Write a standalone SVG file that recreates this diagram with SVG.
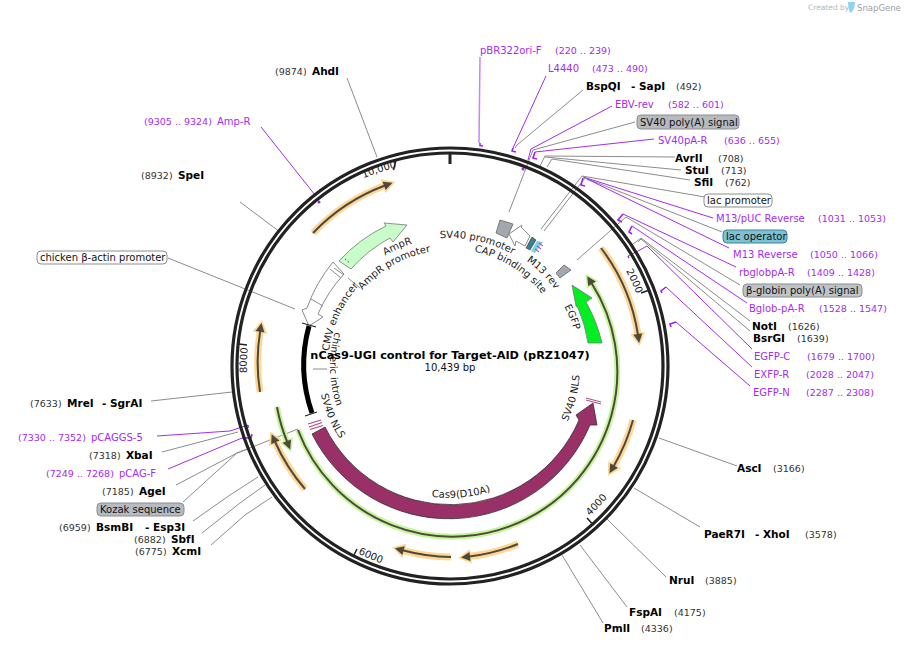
<svg xmlns="http://www.w3.org/2000/svg" width="905" height="645" viewBox="0 0 905 645">
<style>
text{font-family:"DejaVu Sans","Liberation Sans",sans-serif;font-size:10px;fill:#111}
.b{font-weight:bold;fill:#000;font-size:10.5px}
.n{font-size:9.5px;fill:#333}
.p{fill:#a32cf0}
.pn{font-size:9.5px;fill:#a32cf0}
.c{font-size:10px;fill:#222}
.g{fill:none;stroke:#8c8c8c;stroke-width:1}
.v{fill:none;stroke:#a32cf0;stroke-width:1}
.k{fill:none;stroke:#a020f0;stroke-width:1.6}
.t{fill:none;stroke:#222;stroke-width:1.6}
.badge{stroke:#8a8d90;stroke-width:1}
.oh{fill:none;stroke:#ffd695;stroke-width:7;marker-end:url(#mo)}
.gh{fill:none;stroke:#c6f59c;stroke-width:6;marker-end:url(#mg)}
.core{fill:none;stroke:#4d4a3c;stroke-width:2;marker-end:url(#md)}
.prom{fill:#fff;stroke:#8a8a8a;stroke-width:1}
</style>
<defs>
<marker id="mo" markerUnits="userSpaceOnUse" markerWidth="30" markerHeight="30" viewBox="-10 -15 30 30" refX="0" refY="0" orient="auto"><path d="M-2 -7.5L11 0L-2 7.5Z" fill="#ffd695"/></marker>
<marker id="mg" markerUnits="userSpaceOnUse" markerWidth="30" markerHeight="30" viewBox="-10 -15 30 30" refX="0" refY="0" orient="auto"><path d="M-2 -7L11 0L-2 7Z" fill="#c6f59c"/></marker>
<marker id="md" markerUnits="userSpaceOnUse" markerWidth="30" markerHeight="30" viewBox="-10 -15 30 30" refX="0" refY="0" orient="auto"><path d="M-1 -4.5L8 0L-1 4.5Z" fill="#4d4a3c"/></marker>
<path id="pAmpR" d="M385 255.500A128 128 0 0 1 494 246"/>
<path id="pAmpRp" d="M362.400 290A116 116 0 0 1 470 252"/>
<path id="pSV40p" d="M440 238.400A128 128 0 0 1 540.500 275.500"/>
<path id="pCAP" d="M474.300 251.600A117 117 0 0 1 551.300 307.500"/>
<path id="pM13" d="M526.400 260.800A130 130 0 0 1 572 321.500"/>
<path id="pEGFP" d="M564.300 306.300A129 129 0 0 1 577 388.400"/>
<path id="pCMV" d="M329 351.200A121 121 0 0 1 408.600 252.300"/>
<path id="pChim" d="M334.900 331.900A120 120 0 0 0 365 451"/>
<path id="pNLS1" d="M321 394.400A132 132 0 0 0 427 496"/>
<path id="pNLS2" d="M567.400 421.800A130 130 0 0 0 562.600 301"/>
<path id="pCas9" d="M431.600 496.700A132 132 0 0 0 564 432"/>
<path id="pT10" d="M363.400 178.200A203 203 0 0 1 450 163"/>
<path id="pT2" d="M626 270.800A200 200 0 0 1 649 348.600"/>
<path id="pT4" d="M589.800 515.900A205 205 0 0 0 651.900 401.600"/>
<path id="pT6" d="M358 553.500A209 209 0 0 0 486.300 571.800"/>
<path id="pT8" d="M247 373A203 203 0 0 1 274 264"/>
</defs>
<rect width="905" height="645" fill="#fff"/>

<g id="connectors">
<path class="g" d="M347 78L377 157"/>
<path class="g" d="M240 202L280 232"/>
<path class="g" d="M168 258L295 309"/>
<path class="g" d="M583 90L517 145L515 148"/>
<path class="g" d="M635 122L533 150L509 212"/>
<path class="g" d="M675 157L545 156L540 166"/>
<path class="g" d="M681 170L545 157"/>
<path class="g" d="M690 180L552 159L547 167"/>
<path class="g" d="M705 197L582 176L541 229"/>
<path class="g" d="M722 232L585 178L544 231"/>
<path class="g" d="M740 285L626 217L577 260"/>
<path class="g" d="M750 321L641 238L633 244"/>
<path class="g" d="M750 331L641 239L638 242"/>
<path class="g" d="M737 466L659 438"/>
<path class="g" d="M700 527L634 488"/>
<path class="g" d="M666 577L607 519"/>
<path class="g" d="M627 607L580 545"/>
<path class="g" d="M603 623L562 555"/>
<path class="g" d="M151 401L232 392"/>
<path class="g" d="M162 452L238 432"/>
<path class="g" d="M176 485L237 453L248 449"/>
<path class="g" d="M183 502L237 453L298 429"/>
<path class="g" d="M193 521L230 495L258 477"/>
<path class="g" d="M202 533L240 503L265 485"/>
<path class="g" d="M211 545L245 515L272 497"/>
<path class="g" d="M348 278L360 288"/>
<path class="g" d="M313 369L327 369"/>
<path d="M480 57L479 143" fill="none" stroke="#c884ff" stroke-width="1.500"/>
<path class="v" d="M546 76L513 148"/>
<path class="v" d="M612 106L531 149L528 160"/>
<path class="v" d="M654 139L535 152"/>
<path class="v" d="M713 218L583 177"/>
<path class="v" d="M729 248L587 179"/>
<path class="v" d="M736 267L623 214"/>
<path class="v" d="M747 303L632 226"/>
<path class="v" d="M752 349L647 246L638 251L628 256"/>
<path class="v" d="M752 367L666 287"/>
<path class="v" d="M750 386L676 322"/>
<path class="v" d="M157 436L230 431L248 425"/>
<path class="v" d="M168 469L242 438"/>
<path class="v" d="M261 127L315 195"/>
<g>
<path class="k" d="M480 143L480 145.500L483 146"/>
<path class="k" d="M513 148L512 151L516 152"/>
<path class="k" d="M535 152L533 158L537 159"/>
<path class="k" d="M583 178L581 185L585 186"/>
<path class="k" d="M623 214L618 220L622 222"/>
<path class="k" d="M632 226L629 232L632 234"/>
<path class="k" d="M628 256L629 258"/>
<path class="k" d="M666 287L661 291L662 293"/>
<path class="k" d="M676 322L670 324L671 327"/>
<path class="k" d="M248 425L248 428"/>
<path class="k" d="M242 438L251 438L252 434"/>
<circle cx="523" cy="169" r="1.500" fill="#a020f0"/>
<circle cx="319" cy="202" r="1.500" fill="#a020f0"/>
</g>
</g>

<g id="backbone">
<circle cx="450" cy="366" r="218" fill="none" stroke="#222" stroke-width="3.200"/>
<circle cx="450" cy="366" r="213" fill="none" stroke="#222" stroke-width="3.200"/>
<path d="M450 153V164" stroke="#222" stroke-width="3"/>
<path class="t" d="M396 160L393.500 170"/>
<path class="t" d="M641 293L648 290.500"/>
<path class="t" d="M587 518L592 523.500"/>
<path class="t" d="M357 549L354 555"/>
<path class="t" d="M247 345L239 344"/>
<text class="c"><textPath href="#pT10">10,000</textPath></text>
<text class="c"><textPath href="#pT2">2000</textPath></text>
<text class="c"><textPath href="#pT4">4000</textPath></text>
<text class="c"><textPath href="#pT6">6000</textPath></text>
<text class="c"><textPath href="#pT8">8000</textPath></text>
</g>

<g id="orange-features">
<path class="oh" d="M313 233A192 192 0 0 1 385 185.500"/><path class="core" d="M313 233A192 192 0 0 1 385 185.500"/>
<path class="oh" d="M601 248A191 191 0 0 1 638 335"/><path class="core" d="M601 248A191 191 0 0 1 638 335"/>
<path class="oh" d="M633 420A191 191 0 0 1 613.500 466.400"/><path class="core" d="M633 420A191 191 0 0 1 613.500 466.400"/>
<path class="oh" d="M518 544A191 191 0 0 1 469 556.600"/><path class="core" d="M518 544A191 191 0 0 1 469 556.600"/>
<path class="oh" d="M451 557A191 191 0 0 1 402.600 550.300"/><path class="core" d="M451 557A191 191 0 0 1 402.600 550.300"/>
<path class="oh" d="M305 489A191 191 0 0 1 274.900 441.500"/><path class="core" d="M305 489A191 191 0 0 1 274.900 441.500"/>
<path class="oh" d="M260 392A191 191 0 0 1 260.200 330.800"/><path class="core" d="M260 392A191 191 0 0 1 260.200 330.800"/>
</g>

<g id="green-features">
<path class="gh" d="M298 430A165 165 0 1 0 591.500 283"/><path class="core" d="M298 430A165 165 0 1 0 591.500 283"/>
<path class="gh" d="M277 407A178 178 0 0 0 287.200 442"/><path class="core" d="M277 407A178 178 0 0 0 287.200 442"/>
</g>

<g id="Cas9">
<path d="M312 434A153 153 0 0 0 590 425L597 425L593 403L576 415L579 420A140 140 0 0 1 325 427Z" fill="#993067" stroke="#333" stroke-width="0.800"/>
<path d="M313 432L326 425" stroke="#fff" stroke-width="1.200" stroke-dasharray="2 1.500"/>
<path d="M308 424L321 420M309 427L322 422.500M310 429.500L323 425.500" stroke="#b04a80" stroke-width="1.200" fill="none"/>
<path d="M586 398L601 402M586 400L601 404" stroke="#b04a80" stroke-width="1" fill="none"/>
<text class="c"><textPath href="#pCas9">Cas9(D10A)</textPath></text>
<text class="c"><textPath href="#pNLS1">SV40 NLS</textPath></text>
<text class="c"><textPath href="#pNLS2">SV40 NLS</textPath></text>
</g>

<g id="EGFP">
<path d="M588 343A140 140 0 0 0 578 308L576 306L572 285L592 298L586 302A153 153 0 0 1 602 343Z" fill="#00ee22" stroke="#777" stroke-width="0.800"/>
<text class="c"><textPath href="#pEGFP">EGFP</textPath></text>
</g>

<g id="AmpR">
<path d="M339 261A153 153 0 0 1 386 226L384 223L407 225L393 242L390 238A140 140 0 0 0 351 269Z" fill="#c8fcc8" stroke="#777" stroke-width="0.800"/>
<path d="M345 259L350 263" stroke="#555" stroke-width="1" stroke-dasharray="1.500 2"/>
<text class="c"><textPath href="#pAmpR">AmpR</textPath></text>
</g>

<g id="AmpR-promoter">
<path class="prom" d="M333 262A153 153 0 0 0 307 308L302 310L309 326L323 317L318 314A140 140 0 0 1 344 274Z"/>
<path class="g" d="M311 299L323 306M330 269L341 278M334 268L344 275"/>
<text class="c"><textPath href="#pAmpRp">AmpR promoter</textPath></text>
</g>

<g id="CMV-enhancer"><text class="c"><textPath href="#pCMV">CMV enhancer</textPath></text></g>

<g id="chimeric-intron">
<path d="M309 326A146 146 0 0 0 312 413" fill="none" stroke="#000" stroke-width="5"/>
<path d="M302 323L316 327M305 416L317 412" stroke="#222" stroke-width="1.200"/>
<text class="c"><textPath href="#pChim">chimeric intron</textPath></text>
</g>

<g id="SV40-promoter">
<path d="M500 220L513 224L507 238L496 233Z" fill="#a3a8ae" stroke="#666" stroke-width="0.800"/>
<path class="prom" d="M509 234L522 225L521 227L530 236L525 246L516 241L515 246Z"/>
<text class="c"><textPath href="#pSV40p">SV40 promoter</textPath></text>
</g>

<g id="CAP-M13">
<path d="M532 237L536 240L530 250L526 248Z" fill="#3b7f8e" stroke="#333" stroke-width="0.600"/>
<path d="M537 241L543 242L535 253L531 251Z" fill="#7ed0dc"/>
<path d="M539 243L543 246M537 246L541 249M535 249L539 252" stroke="#a020f0" stroke-width="1"/>
<text class="c"><textPath href="#pCAP">CAP binding site</textPath></text>
<text class="c"><textPath href="#pM13">M13 rev</textPath></text>
</g>

<g id="lac-operator-site"><path d="M564 265L571 270L560 278L556 273Z" fill="#a3a8ae" stroke="#666" stroke-width="0.800"/></g>

<g id="title">
<text x="450" y="359" text-anchor="middle" style="font-weight:bold;font-size:11.300px;fill:#000">nCas9-UGI control for Target-AID (pRZ1047)</text>
<text x="450" y="371" text-anchor="middle" style="font-size:10px">10,439 bp</text>
</g>

<g id="labels-top-right">
<g id="pBR322ori-F"><text class="p" x="480" y="54">pBR322ori-F</text><text class="pn" x="555" y="54">(220 .. 239)</text></g>
<g id="L4440"><text class="p" x="548" y="72">L4440</text><text class="pn" x="592" y="72">(473 .. 490)</text></g>
<g id="BspQI"><text class="b" x="586" y="90">BspQI</text><text class="b" x="631" y="90">- SapI</text><text class="n" x="676" y="90">(492)</text></g>
<g id="EBV-rev"><text class="p" x="615" y="108">EBV-rev</text><text class="pn" x="668" y="108">(582 .. 601)</text></g>
<g id="SV40-polyA"><rect class="badge" x="637" y="115" width="102" height="14" rx="4" fill="#b7babf"/><text x="640" y="126">SV40 poly(A) signal</text></g>
<g id="SV40pA-R"><text class="p" x="658" y="144">SV40pA-R</text><text class="pn" x="724" y="144">(636 .. 655)</text></g>
<g id="AvrII"><text class="b" x="675" y="162">AvrII</text><text class="n" x="718" y="162">(708)</text></g>
<g id="StuI"><text class="b" x="685" y="174">StuI</text><text class="n" x="721" y="174">(713)</text></g>
<g id="SfiI"><text class="b" x="694" y="186">SfiI</text><text class="n" x="725" y="186">(762)</text></g>
<g id="lac-promoter"><rect class="badge" x="704" y="194" width="68" height="13" rx="4" fill="#fff"/><text x="707" y="204">lac promoter</text></g>
<g id="M13-pUC"><text class="p" x="716" y="222">M13/pUC Reverse</text><text class="pn" x="818" y="222">(1031 .. 1053)</text></g>
<g id="lac-operator"><rect class="badge" x="723" y="230" width="64" height="13" rx="4" fill="#7ec1d3" style="stroke:#3f8296"/><text x="726" y="240">lac operator</text></g>
<g id="M13-Reverse"><text class="p" x="733" y="258">M13 Reverse</text><text class="pn" x="810" y="258">(1050 .. 1066)</text></g>
<g id="rbglobpA-R"><text class="p" x="739" y="276">rbglobpA-R</text><text class="pn" x="807" y="276">(1409 .. 1428)</text></g>
<g id="beta-globin"><rect class="badge" x="743" y="284" width="119" height="13" rx="4" fill="#c0c3c6"/><text x="746" y="294">β-globin poly(A) signal</text></g>
<g id="Bglob-pA-R"><text class="p" x="749" y="312">Bglob-pA-R</text><text class="pn" x="819" y="312">(1528 .. 1547)</text></g>
<g id="NotI"><text class="b" x="752" y="330">NotI</text><text class="n" x="788" y="330">(1626)</text></g>
<g id="BsrGI"><text class="b" x="753" y="342">BsrGI</text><text class="n" x="797" y="342">(1639)</text></g>
<g id="EGFP-C"><text class="p" x="754" y="360">EGFP-C</text><text class="pn" x="807" y="360">(1679 .. 1700)</text></g>
<g id="EXFP-R"><text class="p" x="754" y="378">EXFP-R</text><text class="pn" x="806" y="378">(2028 .. 2047)</text></g>
<g id="EGFP-N"><text class="p" x="753" y="396">EGFP-N</text><text class="pn" x="806" y="396">(2287 .. 2308)</text></g>
</g>
<g id="labels-bottom">
<g id="AscI"><text class="b" x="737" y="472">AscI</text><text class="n" x="773" y="472">(3166)</text></g>
<g id="PaeR7I"><text class="b" x="704" y="538">PaeR7I</text><text class="b" x="755" y="538">- XhoI</text><text class="n" x="805" y="538">(3578)</text></g>
<g id="NruI"><text class="b" x="669" y="584">NruI</text><text class="n" x="705" y="584">(3885)</text></g>
<g id="FspAI"><text class="b" x="629" y="616">FspAI</text><text class="n" x="674" y="616">(4175)</text></g>
<g id="PmlI"><text class="b" x="604" y="632">PmlI</text><text class="n" x="641" y="632">(4336)</text></g>
</g>
<g id="labels-left">
<g id="AhdI"><text class="n" x="275" y="75">(9874)</text><text class="b" x="312" y="75">AhdI</text></g>
<g id="Amp-R"><text class="pn" x="144" y="125">(9305 .. 9324)</text><text class="p" x="217" y="125">Amp-R</text></g>
<g id="SpeI"><text class="n" x="141" y="179">(8932)</text><text class="b" x="178" y="179">SpeI</text></g>
<g id="chicken-actin"><rect class="badge" x="37" y="251" width="130" height="13" rx="4" fill="#fff"/><text x="40" y="261">chicken β-actin promoter</text></g>
<g id="MreI"><text class="n" x="30" y="407">(7633)</text><text class="b" x="67" y="407">MreI</text><text class="b" x="102" y="407">- SgrAI</text></g>
<g id="pCAGGS-5"><text class="pn" x="18" y="441">(7330 .. 7352)</text><text class="p" x="91" y="441">pCAGGS-5</text></g>
<g id="XbaI"><text class="n" x="89" y="459">(7318)</text><text class="b" x="126" y="459">XbaI</text></g>
<g id="pCAG-F"><text class="pn" x="46" y="477">(7249 .. 7268)</text><text class="p" x="119" y="477">pCAG-F</text></g>
<g id="AgeI"><text class="n" x="102" y="495">(7185)</text><text class="b" x="139" y="495">AgeI</text></g>
<g id="Kozak"><rect class="badge" x="97" y="503" width="87" height="13" rx="4" fill="#b7babf"/><text x="100" y="513">Kozak sequence</text></g>
<g id="BsmBI"><text class="n" x="59" y="531">(6959)</text><text class="b" x="96" y="531">BsmBI</text><text class="b" x="145" y="531">- Esp3I</text></g>
<g id="SbfI"><text class="n" x="134" y="543">(6882)</text><text class="b" x="171" y="543">SbfI</text></g>
<g id="XcmI"><text class="n" x="135" y="555">(6775)</text><text class="b" x="172" y="555">XcmI</text></g>
</g>
<g id="logo">
<text x="808" y="10" style="font-size:7.500px;fill:#b5b8bb">Created by</text>
<path d="M848 2H855C855 7 853 12 850 13C849 10 848 6 848 2Z" fill="#8fd3f4"/>
<text x="857" y="11" style="font-size:8.500px;fill:#9aa0a5">SnapGene</text>
</g>
</svg>
